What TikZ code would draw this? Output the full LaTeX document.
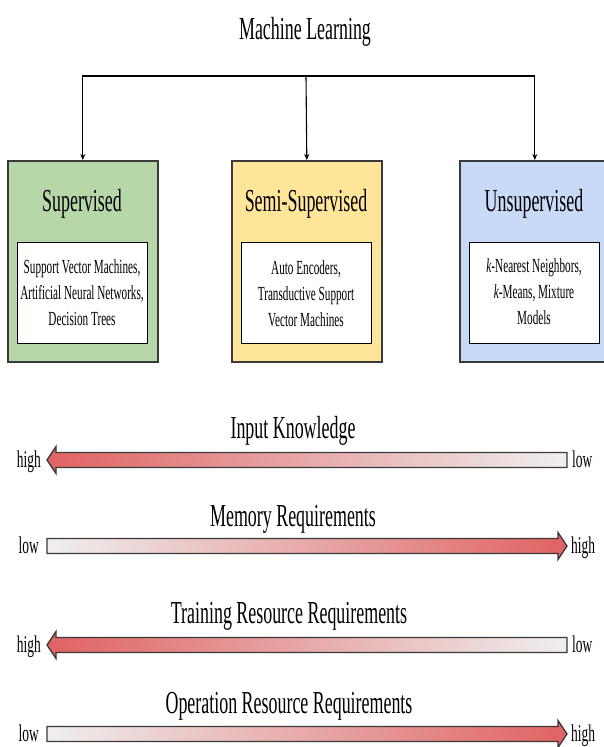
\documentclass[tikz,border=0pt]{standalone}
\usepackage{fontspec}
\setmainfont{Liberation Serif}[FakeStretch=0.56]
\usetikzlibrary{arrows.meta}
\definecolor{grn}{HTML}{B6D7A8}
\definecolor{ylw}{HTML}{FFE599}
\definecolor{blu}{HTML}{C9DAF8}
\definecolor{hot}{HTML}{E06262}
\definecolor{cold}{HTML}{EFEFEF}
\definecolor{edge}{HTML}{3A3A3A}
\begin{document}
\begin{tikzpicture}[x=1pt,y=-1pt,
  catbox/.style={draw=edge,line width=1.6pt,minimum width=150pt,minimum height=201pt,inner sep=0pt,anchor=north west},
  listbox/.style={draw=black,fill=white,line width=1.3pt,minimum width=130pt,minimum height=101pt,inner sep=0pt,anchor=north west},
  headtxt/.style={font=\fontsize{32}{38}\selectfont,anchor=base,inner sep=0pt},
  listtxt/.style={font=\fontsize{20}{26}\selectfont,align=center,inner sep=0pt,anchor=center},
  bartxt/.style={font=\fontsize{32}{38}\selectfont,anchor=base,inner sep=0pt},
  endtxt/.style={font=\fontsize{24}{28}\selectfont,inner sep=0pt},
  link/.style={line width=1.1pt,-{Stealth[length=6pt,width=5pt]}},
  grad/.style={draw=edge,line width=1.3pt}
]
\useasboundingbox (0,0) rectangle (603,747);

% title
\node[headtxt] (ml) at (305,39) {Machine Learning};

% category boxes
\node[catbox,fill=grn] (sup) at (7,160) {};
\node[catbox,fill=ylw] (semi) at (231,160) {};
\node[catbox,fill=blu] (uns) at (459,160) {};

\node[headtxt] (suph) at (82,211) {Supervised};
\node[headtxt] (semih) at (306,211) {Semi-Supervised};
\node[headtxt] (unsh) at (534,211) {Unsupervised};

\node[listbox] (supl) at (17,242) {};
\node[listbox] (semil) at (241,242) {};
\node[listbox] (unsl) at (469,242) {};

\node[listtxt] (supt) at (82,293) {Support Vector Machines,\\Artificial Neural Networks,\\Decision Trees};
\node[listtxt] (semit) at (306,294) {Auto Encoders,\\Transductive Support\\Vector Machines};
\node[listtxt] (unst) at (534,292) {\textit{k}-Nearest Neighbors,\\\textit{k}-Means, Mixture\\Models};

% connectors
\coordinate (bar) at (306,76);
\draw[link] (bar) -| (sup.north);
\draw[link] (bar) -- (semi.north);
\draw[link] (bar) -| (uns.north);

% gradient bars
% 1: Input Knowledge (points left)
\node[bartxt] (ik) at (293,438) {Input Knowledge};
\path[grad,left color=hot,right color=cold] (47,460) -- (56,446.5) -- (56,452.5) -- (567,452.5) -- (567,467.5) -- (56,467.5) -- (56,473.5) -- cycle;
\node[endtxt,anchor=base east] (ikh) at (41,467) {high};
\node[endtxt,anchor=base west] (ikl) at (572,467) {low};

% 2: Memory Requirements (points right)
\node[bartxt] (mr) at (293,526) {Memory Requirements};
\path[grad,left color=cold,right color=hot] (567,546) -- (558,532.5) -- (558,538.5) -- (47,538.5) -- (47,553.5) -- (558,553.5) -- (558,559.5) -- cycle;
\node[endtxt,anchor=base east] (mrl) at (39,553) {low};
\node[endtxt,anchor=base west] (mrh) at (571,553) {high};

% 3: Training Resource Requirements (points left)
\node[bartxt] (tr) at (289,623) {Training Resource Requirements};
\path[grad,left color=hot,right color=cold] (47,645) -- (56,631.5) -- (56,637.5) -- (567,637.5) -- (567,652.5) -- (56,652.5) -- (56,658.5) -- cycle;
\node[endtxt,anchor=base east] (trh) at (41,652) {high};
\node[endtxt,anchor=base west] (trl) at (572,652) {low};

% 4: Operation Resource Requirements (points right)
\node[bartxt] (orr) at (289,713) {Operation Resource Requirements};
\path[grad,left color=cold,right color=hot] (567,734) -- (558,720.5) -- (558,726.5) -- (47,726.5) -- (47,741.5) -- (558,741.5) -- (558,747.5) -- cycle;
\node[endtxt,anchor=base east] (orl) at (39,741) {low};
\node[endtxt,anchor=base west] (orh) at (571,741) {high};
\end{tikzpicture}
\end{document}
